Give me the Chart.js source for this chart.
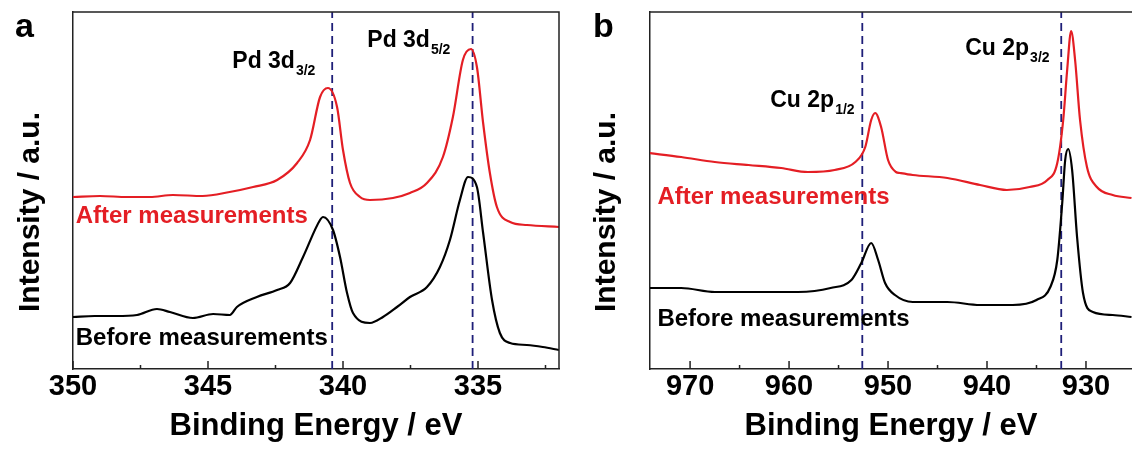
<!DOCTYPE html>
<html>
<head>
<meta charset="utf-8">
<script src="https://cdn.jsdelivr.net/npm/chart.js@4.4.0/dist/chart.umd.min.js"></script>
<style>
  html, body { margin: 0; padding: 0; background: #fff; }
  #wrap { position: relative; width: 1132px; height: 453px; overflow: hidden; }
  .panel { position: absolute; top: 0; width: 566px; height: 453px; }
</style>
</head>
<body>
<div id="wrap">
  <div class="panel" style="left:0"><canvas id="chartA" width="566" height="453"></canvas></div>
  <div class="panel" style="left:566px"><canvas id="chartB" width="566" height="453"></canvas></div>
</div>
<script>
// Panel a: Pd 3d
const pdAfterEnergy = [350, 349, 348, 347.15, 346.3, 345.2, 344.2, 343.33, 342.44, 341.7, 341.22, 340.85, 340.56, 340.22, 340.0, 339.74, 339.37, 339.0, 338.15, 337.52, 336.89, 336.3, 335.93, 335.56, 335.26, 335.04, 334.81, 334.56, 334.3, 333.81, 333.19, 332.0];
const pdAfter = [172, 173, 172, 172, 174, 173, 177, 182, 189, 206, 229, 272, 281, 262, 219, 186, 172, 169, 171, 176, 186, 212, 252, 309, 320, 302, 246, 196, 162, 147, 144, 142];

const pdBeforeEnergy = [350, 349.2, 348.4, 347.63, 346.89, 346.41, 345.56, 344.81, 344.19, 343.93, 343.19, 342.44, 341.96, 341.48, 340.85, 340.74, 340.37, 340.11, 339.85, 339.63, 339.0, 338.52, 338.0, 337.52, 336.89, 336.41, 336.04, 335.67, 335.37, 335.04, 334.81, 334.48, 334.19, 333.81, 333.19, 332.6, 332.0];
const pdBefore = [52, 53, 53, 54, 60, 57, 51, 55, 54, 62, 72, 79, 86, 112, 149, 152, 139, 112, 76, 56, 46, 52, 62, 72, 82, 102, 129, 169, 192, 182, 136, 69, 36, 26, 24, 22, 19];

const pdPeaks = [340.4, 335.2];
const pdMajorTicks = [350, 345, 340, 335];
const pdMinorTicks = [347.5, 342.5, 337.5, 332.5];

// Panel b: Cu 2p
const cuAfterEnergy = [974.2, 970.9, 967.5, 964.1, 960.8, 958.1, 955.4, 953.3, 952.3, 951.7, 951.3, 950.7, 950.0, 949.2, 948.8, 947.5, 944.0, 940.7, 938.0, 935.7, 933.9, 932.9, 932.3, 931.9, 931.5, 931.1, 930.6, 929.9, 928.9, 927.3, 925.4];
const cuAfter = [216, 212, 207, 204, 201, 197, 199, 207, 222, 249, 256, 242, 209, 197, 196, 194, 191, 184, 179, 182, 189, 206, 249, 299, 338, 309, 249, 202, 182, 174, 171];

const cuBeforeEnergy = [974.2, 970.9, 967.5, 962.4, 959.1, 955.8, 953.7, 952.7, 951.7, 951.0, 950.3, 949.3, 947.5, 944.0, 940.7, 937.4, 935.0, 933.6, 932.9, 932.4, 932.1, 931.8, 931.4, 930.9, 930.3, 929.3, 927.3, 925.4];
const cuBefore = [81, 81, 77, 77, 77, 81, 89, 106, 126, 109, 86, 74, 67, 67, 64, 64, 69, 82, 109, 166, 209, 220, 199, 132, 76, 57, 54, 52];

const cuPeaks = [952.6, 932.5];
const cuMajorTicks = [970, 960, 950, 940, 930];
const cuMinorTicks = [965, 955, 945, 935];

const RED = "rgb(228, 30, 36)";
const NAVY = "rgb(30, 30, 120)";
const FONT = "'Liberation Sans', Arial, sans-serif";
Chart.defaults.font.family = FONT;

function zip(xs, ys) {
  return xs.map((x, i) => ({ x: x, y: ys[i] }));
}

function dashLines(peaks) {
  return peaks.map(p => ({
    data: [{ x: p, y: 0 }, { x: p, y: 357 }],
    borderColor: NAVY,
    borderWidth: 1.8,
    borderDash: [8, 5],
    pointRadius: 0,
    showLine: true,
  }));
}

// frame, inner ticks, y title, panel letter and peak labels
const decor = {
  id: "decor",
  afterDraw(chart, args, opts) {
    const { ctx, chartArea: a, scales: { x, y } } = chart;
    ctx.save();
    ctx.strokeStyle = "#222";
    ctx.lineWidth = 1.5;
    ctx.beginPath();
    ctx.moveTo(a.left, a.top);
    ctx.lineTo(a.right, a.top);
    if (opts.rightBorder) ctx.lineTo(a.right, a.bottom);
    ctx.stroke();

    ctx.beginPath();
    opts.major.forEach(v => {
      const px = x.getPixelForValue(v);
      ctx.moveTo(px, a.bottom);
      ctx.lineTo(px, a.bottom - 8);
    });
    opts.minor.forEach(v => {
      const px = x.getPixelForValue(v);
      ctx.moveTo(px, a.bottom);
      ctx.lineTo(px, a.bottom - 4);
    });
    ctx.stroke();

    ctx.fillStyle = "#000";
    ctx.font = "bold 34px " + FONT;
    ctx.textBaseline = "alphabetic";
    ctx.textAlign = "left";
    ctx.fillText(opts.letter, opts.letterX, 37);

    ctx.save();
    ctx.translate(opts.yTitleX, 212);
    ctx.rotate(-Math.PI / 2);
    ctx.textAlign = "center";
    ctx.textBaseline = "middle";
    ctx.font = "bold 30px " + FONT;
    ctx.fillText("Intensity / a.u.", 0, 0);
    ctx.restore();

    opts.labels.forEach(l => {
      const px = x.getPixelForValue(l.x);
      const py = y.getPixelForValue(l.y);
      ctx.fillStyle = l.color || "#000";
      ctx.font = "bold " + l.size + "px " + FONT;
      ctx.textAlign = "left";
      ctx.textBaseline = l.sub ? "alphabetic" : "middle";
      ctx.fillText(l.text, px, py);
      if (l.sub) {
        const w = ctx.measureText(l.text).width;
        ctx.font = "bold 14px " + FONT;
        ctx.fillText(l.sub, px + w + 1, py + 7);
      }
    });
    ctx.restore();
  },
};

function makeChart(id, cfg) {
  return new Chart(document.getElementById(id).getContext("2d"), {
    type: "scatter",
    data: {
      datasets: [
        {
          data: zip(cfg.afterX, cfg.afterY),
          borderColor: RED,
          borderWidth: 2.2,
          pointRadius: 0,
          showLine: true,
          cubicInterpolationMode: "monotone",
        },
        {
          data: zip(cfg.beforeX, cfg.beforeY),
          borderColor: "#000",
          borderWidth: 2.2,
          pointRadius: 0,
          showLine: true,
          cubicInterpolationMode: "monotone",
        },
      ].concat(dashLines(cfg.peaks)),
    },
    options: {
      responsive: false,
      animation: false,
      devicePixelRatio: 1,
      layout: { padding: { top: 12, right: cfg.padRight, bottom: 8, left: 0 } },
      plugins: {
        legend: { display: false },
        tooltip: { enabled: false },
        decor: cfg.decor,
      },
      scales: {
        x: {
          type: "linear",
          reverse: true,
          min: cfg.xMin,
          max: cfg.xMax,
          grid: { display: false, drawTicks: false },
          border: { display: true, color: "#222", width: 1.5 },
          ticks: {
            stepSize: cfg.step,
            includeBounds: false,
            padding: 1,
            color: "#000",
            font: { size: 29, weight: "bold" },
            maxRotation: 0,
          },
          title: {
            display: true,
            text: "Binding Energy / eV",
            color: "#000",
            font: { size: 31, weight: "bold" },
            padding: { top: 0, bottom: 0 },
          },
          afterFit: s => { s.height = 76; },
        },
        y: {
          min: 0,
          max: 357,
          grid: { display: false, drawTicks: false },
          border: { display: true, color: "#222", width: 1.5 },
          ticks: { display: false },
          afterFit: s => { s.width = cfg.yWidth; },
        },
      },
    },
    plugins: [decor],
  });
}

makeChart("chartA", {
  afterX: pdAfterEnergy, afterY: pdAfter,
  beforeX: pdBeforeEnergy, beforeY: pdBefore,
  peaks: pdPeaks,
  xMin: 332, xMax: 350, step: 5,
  padRight: 7, yWidth: 73,
  decor: {
    rightBorder: true,
    major: pdMajorTicks, minor: pdMinorTicks,
    letter: "a", letterX: 15, yTitleX: 31,
    labels: [
      { text: "Pd 3d", sub: "3/2", x: 344.1, y: 301, size: 23 },
      { text: "Pd 3d", sub: "5/2", x: 339.1, y: 322, size: 23 },
      { text: "After measurements", x: 349.9, y: 153, size: 24, color: RED },
      { text: "Before measurements", x: 349.9, y: 31, size: 24 },
    ],
  },
});

makeChart("chartB", {
  afterX: cuAfterEnergy, afterY: cuAfter,
  beforeX: cuBeforeEnergy, beforeY: cuBefore,
  peaks: cuPeaks,
  xMin: 925.35, xMax: 974.05, step: 10,
  padRight: 0, yWidth: 84,
  decor: {
    rightBorder: false,
    major: cuMajorTicks, minor: cuMinorTicks,
    letter: "b", letterX: 27, yTitleX: 41,
    labels: [
      { text: "Cu 2p", sub: "1/2", x: 961.9, y: 262, size: 23 },
      { text: "Cu 2p", sub: "3/2", x: 942.2, y: 314, size: 23 },
      { text: "After measurements", x: 973.3, y: 172, size: 24, color: RED },
      { text: "Before measurements", x: 973.3, y: 50, size: 24 },
    ],
  },
});
</script>
</body>
</html>
